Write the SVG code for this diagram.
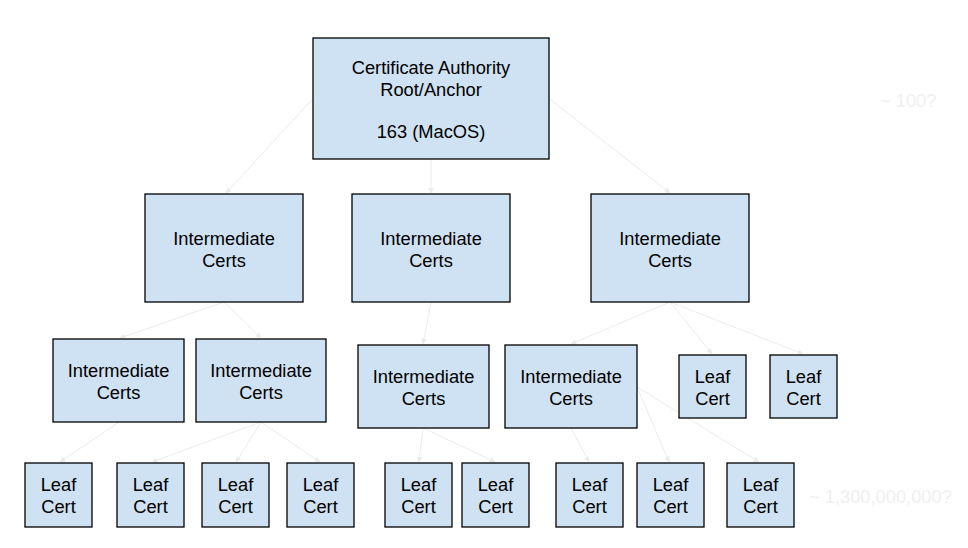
<svg xmlns="http://www.w3.org/2000/svg" width="968" height="548" viewBox="0 0 968 548">
<style>
.box{fill:#cfe2f3;stroke:#000;stroke-width:1.3}
.t{font-family:"Liberation Sans",Arial,sans-serif;font-size:18.3px;fill:#000;text-anchor:middle}
.faint{font-family:"Liberation Sans",Arial,sans-serif;font-size:18.3px;fill:#f0f0f0}
.c{stroke:#ececec;stroke-width:1;fill:none;marker-end:url(#ah)}
</style>
<defs>
<marker id="ah" viewBox="0 0 10 10" refX="9" refY="5" markerWidth="6" markerHeight="6" orient="auto" markerUnits="userSpaceOnUse">
<path d="M0,0 L10,5 L0,10 z" fill="#ececec"/>
</marker>
</defs>
<rect width="968" height="548" fill="#fff"/>
<g id="connectors">
<line class="c" x1="313" y1="98.5" x2="226" y2="193"/>
<line class="c" x1="431" y1="159" x2="431" y2="193"/>
<line class="c" x1="549" y1="98.5" x2="670" y2="193"/>
<line class="c" x1="224" y1="302" x2="120" y2="338"/>
<line class="c" x1="224" y1="302" x2="261" y2="338"/>
<line class="c" x1="431" y1="302" x2="423" y2="344"/>
<line class="c" x1="670" y1="302" x2="571" y2="344"/>
<line class="c" x1="670" y1="302" x2="712" y2="354"/>
<line class="c" x1="670" y1="302" x2="803" y2="354"/>
<line class="c" x1="119" y1="422" x2="60" y2="462"/>
<line class="c" x1="261" y1="422" x2="152" y2="462"/>
<line class="c" x1="261" y1="422" x2="236" y2="462"/>
<line class="c" x1="261" y1="422" x2="320" y2="462"/>
<line class="c" x1="423" y1="428" x2="419" y2="462"/>
<line class="c" x1="423" y1="428" x2="495" y2="462"/>
<line class="c" x1="571" y1="428" x2="589" y2="462"/>
<line class="c" x1="637" y1="387" x2="669" y2="462"/>
<line class="c" x1="637" y1="387" x2="759" y2="462"/>
</g>
<g id="root">
<rect class="box" x="313" y="38" width="236" height="121"/>
<text class="t" x="431" y="73.5">Certificate Authority</text>
<text class="t" x="431" y="95.5">Root/Anchor</text>
<text class="t" x="431" y="137.5">163 (MacOS)</text>
</g>
<g id="int-l2-1">
<rect class="box" x="145" y="194" width="158" height="108"/>
<text class="t" x="224" y="244.5">Intermediate</text>
<text class="t" x="224" y="266.5">Certs</text>
</g>
<g id="int-l2-2">
<rect class="box" x="352" y="194" width="158" height="108"/>
<text class="t" x="431" y="244.5">Intermediate</text>
<text class="t" x="431" y="266.5">Certs</text>
</g>
<g id="int-l2-3">
<rect class="box" x="591" y="194" width="158" height="108"/>
<text class="t" x="670" y="244.5">Intermediate</text>
<text class="t" x="670" y="266.5">Certs</text>
</g>
<g id="int-l3-a">
<rect class="box" x="53" y="339" width="131" height="83"/>
<text class="t" x="118.5" y="376.5">Intermediate</text>
<text class="t" x="118.5" y="398.5">Certs</text>
</g>
<g id="int-l3-b">
<rect class="box" x="196" y="339" width="130" height="83"/>
<text class="t" x="261" y="376.5">Intermediate</text>
<text class="t" x="261" y="398.5">Certs</text>
</g>
<g id="int-l3-c">
<rect class="box" x="358" y="345" width="131" height="83"/>
<text class="t" x="423.5" y="382.5">Intermediate</text>
<text class="t" x="423.5" y="404.5">Certs</text>
</g>
<g id="int-l3-d">
<rect class="box" x="505" y="345" width="132" height="83"/>
<text class="t" x="571" y="382.5">Intermediate</text>
<text class="t" x="571" y="404.5">Certs</text>
</g>
<g id="leaf-e">
<rect class="box" x="679" y="355" width="67" height="63"/>
<text class="t" x="712.5" y="382.5">Leaf</text>
<text class="t" x="712.5" y="404.5">Cert</text>
</g>
<g id="leaf-f">
<rect class="box" x="770" y="355" width="67" height="63"/>
<text class="t" x="803.5" y="382.5">Leaf</text>
<text class="t" x="803.5" y="404.5">Cert</text>
</g>
<g id="leaf-1">
<rect class="box" x="25" y="463" width="67" height="64"/>
<text class="t" x="58.5" y="490.5">Leaf</text>
<text class="t" x="58.5" y="512.5">Cert</text>
</g>
<g id="leaf-2">
<rect class="box" x="117" y="463" width="67" height="64"/>
<text class="t" x="150.5" y="490.5">Leaf</text>
<text class="t" x="150.5" y="512.5">Cert</text>
</g>
<g id="leaf-3">
<rect class="box" x="202" y="463" width="67" height="64"/>
<text class="t" x="235.5" y="490.5">Leaf</text>
<text class="t" x="235.5" y="512.5">Cert</text>
</g>
<g id="leaf-4">
<rect class="box" x="287" y="463" width="67" height="64"/>
<text class="t" x="320.5" y="490.5">Leaf</text>
<text class="t" x="320.5" y="512.5">Cert</text>
</g>
<g id="leaf-5">
<rect class="box" x="385" y="463" width="67" height="64"/>
<text class="t" x="418.5" y="490.5">Leaf</text>
<text class="t" x="418.5" y="512.5">Cert</text>
</g>
<g id="leaf-6">
<rect class="box" x="462" y="463" width="67" height="64"/>
<text class="t" x="495.5" y="490.5">Leaf</text>
<text class="t" x="495.5" y="512.5">Cert</text>
</g>
<g id="leaf-7">
<rect class="box" x="556" y="463" width="67" height="64"/>
<text class="t" x="589.5" y="490.5">Leaf</text>
<text class="t" x="589.5" y="512.5">Cert</text>
</g>
<g id="leaf-8">
<rect class="box" x="637" y="463" width="67" height="64"/>
<text class="t" x="670.5" y="490.5">Leaf</text>
<text class="t" x="670.5" y="512.5">Cert</text>
</g>
<g id="leaf-9">
<rect class="box" x="727" y="463" width="67" height="64"/>
<text class="t" x="760.5" y="490.5">Leaf</text>
<text class="t" x="760.5" y="512.5">Cert</text>
</g>
<g id="labels">
<text class="faint" x="880" y="106.5">~ 100?</text>
<text class="faint" x="809" y="502.5">~ 1,300,000,000?</text>
</g>
</svg>
